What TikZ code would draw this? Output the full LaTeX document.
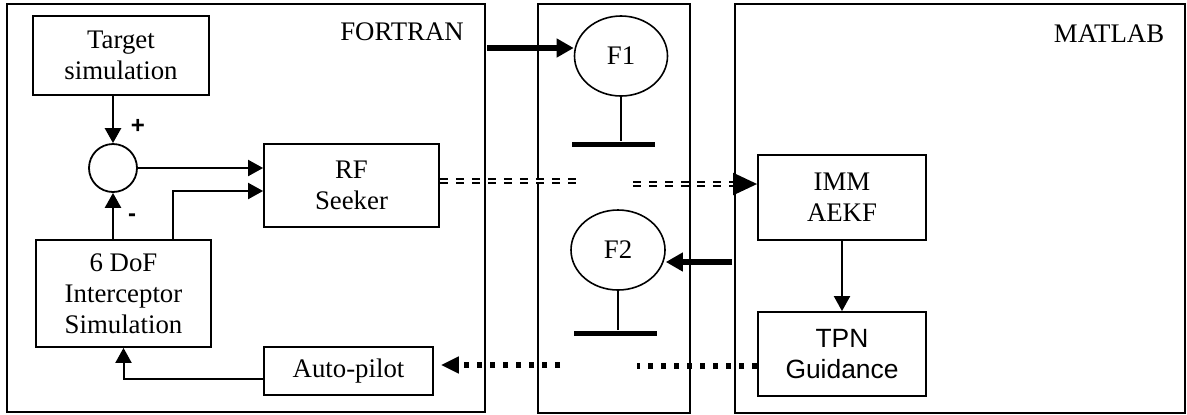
\documentclass[tikz,border=0pt]{standalone}
\usepackage{fontspec}
\setmainfont{Liberation Serif}
\newfontfamily\arialfont{Liberation Sans}
\usetikzlibrary{arrows.meta,shapes.geometric}
\begin{document}
\begin{tikzpicture}[x=0.5pt,y=-0.5pt,
  frame/.style={draw,line width=0.9pt,inner sep=0pt},
  box/.style={draw,line width=0.9pt,inner sep=0pt,align=center,
    font=\fontsize{13.4}{15.5}\selectfont},
  ell/.style={draw,ellipse,line width=0.8pt,inner sep=0pt,
    font=\fontsize{13.4}{15.5}\selectfont},
  bar/.style={fill=black,inner sep=0pt,minimum width=41.5pt,minimum height=2.5pt},
  lbl/.style={inner sep=0pt,font=\fontsize{13.4}{15.5}\selectfont},
  sign/.style={inner sep=0pt,font=\arialfont\bfseries\fontsize{12}{14}\selectfont},
  conn/.style={line width=1pt,-{Triangle[length=7.5pt,width=8pt]}},
  stem/.style={line width=0.8pt},
  thickarr/.style={line width=2.6pt,-{Triangle[length=8.5pt,width=9pt]}},
  dd/.style={double,double distance=1pt,line width=1.1pt,dash pattern=on 4pt off 4pt},
  dots/.style={line width=3pt,dash pattern=on 2.5pt off 4pt}
]
\useasboundingbox (0,0) rectangle (1187,414);
% frames
\node[frame,minimum width=239pt,minimum height=204pt] (fort) at (246,208) {};
\node[frame,minimum width=76pt,minimum height=204.5pt] (mid) at (614,208.5) {};
\node[frame,minimum width=225pt,minimum height=204.5pt] (mat) at (960,208.5) {};
\node[lbl,anchor=base] (fortl) at (402,40) {FORTRAN};
\node[lbl,anchor=base] (matl) at (1109,42) {MATLAB};
% FORTRAN blocks
\node[box,minimum width=88pt,minimum height=39.5pt] (tgt) at (121,55.5) {Target\\simulation};
\node[draw,circle,line width=0.9pt,minimum size=24pt,inner sep=0pt] (sum) at (113,168) {};
\node[box,minimum width=87.5pt,minimum height=41.5pt] (rf) at (351.5,185.5) {RF\\Seeker};
\node[box,minimum width=87.5pt,minimum height=53.5pt] (dof) at (123.5,293.5) {6 DoF\\Interceptor\\Simulation};
\node[box,minimum width=84.5pt,minimum height=24pt] (ap) at (348.5,371) {Auto-pilot};
\node[sign] (plus) at (138,126) {+};
\node[sign] (minus) at (132,218) {-};
% middle
\node[ell,minimum width=46.5pt,minimum height=40pt] (f1) at (621,56) {F1};
\node[ell,minimum width=47pt,minimum height=40pt] (f2) at (618,250) {F2};
\node[bar] (b1) at (613.5,144) {};
\node[bar] (b2) at (615.5,333) {};
% MATLAB blocks
\node[box,minimum width=84pt,minimum height=42.5pt] (imm) at (842,197.5) {IMM\\AEKF};
\node[box,minimum width=84pt,minimum height=42pt,font=\arialfont\fontsize{13.2}{15.5}\selectfont] (tpn) at (842,354) {TPN\\Guidance};
% coordinates
\coordinate (k) at (173,191);
\coordinate (apl) at (264,379);
\coordinate (a1) at (487,48);
\coordinate (a2) at (732,262);
\coordinate (d1) at (576,181);
\coordinate (d2) at (633,184);
\coordinate (e1) at (637,366);
\coordinate (e2) at (560,365);
% connectors
\draw[conn,line width=1.3pt] (tgt.south -| sum.north) -- (sum.north);
\draw[conn] (sum.east) -- (sum.east -| rf.west);
\draw[conn,line width=1.3pt] (dof.north -| sum.south) -- (sum.south);
\draw[conn] (dof.north -| k) -- (k) -- (k -| rf.west);
\draw[conn] (apl) -| (dof.south);
\draw[conn] (imm.south) -- (tpn.north);
\draw[thickarr] (a1) -- (f1.west |- a1);
\draw[thickarr] (a2) -- (f2.east |- a2);
\draw[stem] (f1.south) -- (f1.south |- b1.north);
\draw[stem] (f2.south) -- (f2.south |- b2.north);
\draw[dd] (rf.east |- d1) -- (d1);
\draw[dd,-{Triangle[length=12pt,width=11pt]}] (d2) -- (d2 -| imm.west);
\draw[dots] (tpn.west |- e1) -- (e1);
\draw[dots,-{Triangle[length=9pt,width=8pt]},shorten >=3.5pt] (e2) -- (e2 -| ap.east);
\end{tikzpicture}
\end{document}
